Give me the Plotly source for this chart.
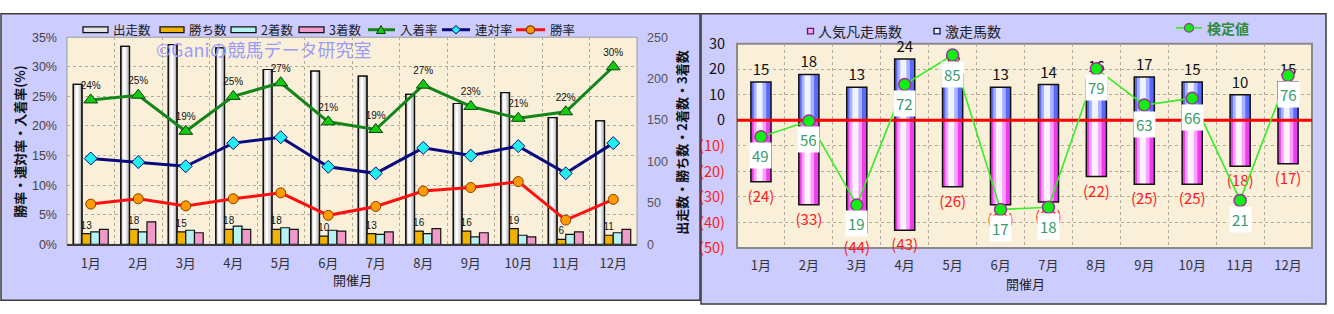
import plotly.graph_objects as go

# ---------------- data ----------------
months = ["1月", "2月", "3月", "4月", "5月", "6月", "7月", "8月", "9月", "10月", "11月", "12月"]
month_pos = list(range(1, 13))

# left chart (counts on right axis, rates on left axis)
runners = [193, 239, 241, 237, 211, 209, 203, 181, 170, 183, 153, 149]
wins = [13, 18, 15, 18, 18, 10, 13, 16, 16, 19, 6, 11]
seconds = [15, 15, 17, 22, 20, 17, 12, 13, 9, 11, 12, 14]
thirds = [18, 27, 14, 18, 18, 16, 15, 19, 14, 9, 15, 18]
place_rate = [24.4, 25.2, 19.1, 25.0, 27.3, 20.7, 19.4, 26.9, 23.3, 21.3, 22.4, 30.0]
quinella_rate = [14.5, 13.9, 13.2, 17.1, 18.1, 13.1, 12.0, 16.3, 15.0, 16.6, 12.0, 17.1]
win_rate = [6.8, 7.7, 6.5, 7.7, 8.7, 4.9, 6.4, 9.0, 9.6, 10.6, 4.1, 7.6]
pct_ticks = [0, 5, 10, 15, 20, 25, 30, 35]
count_ticks = [0, 50, 100, 150, 200, 250]

# right chart
surge = [15, 18, 13, 24, 18, 13, 14, 16, 17, 15, 10, 15]
flop = [-24, -33, -44, -43, -26, -33, -32, -22, -25, -25, -18, -17]
test_value = [49, 56, 19, 72, 85, 17, 18, 79, 63, 66, 21, 76]
diff_ticks = [30, 20, 10, 0, -10, -20, -30, -40, -50]

# ---------------- helpers ----------------
W, H = 1334, 314


def px(v):
    return v / W


def py(v):
    return 1 - v / H


JP = "Noto Sans CJK JP, Noto Sans, sans-serif"
NUM = "Liberation Sans, Arial, sans-serif"
GRID = "#b4ab98"

LX0, LX1, LY0, LY1 = 67, 637, 27, 249
RX0, RX1, RY0, RY1 = 737, 1312, 34, 253

fig = go.Figure()


def bar(y, off, w, color, xa, ya, line=None, lw=1.2, **kw):
    return go.Bar(
        x=month_pos, y=y, offset=off, width=w, xaxis=xa, yaxis=ya,
        marker=dict(color=color, line=dict(color=line if line else "rgba(0,0,0,0)", width=lw if line else 0)),
        showlegend=False, hoverinfo="skip", cliponaxis=False, **kw)


# ---- left chart bars (primary y = counts, right side) ----
BW = 0.184
o0 = -2 * BW
fig.add_trace(bar(runners, o0, BW, "#b4b4b4", "x", "y", line="#111"))
fig.add_trace(bar(runners, o0 + 0.025, 0.12, "#dedede", "x", "y"))
fig.add_trace(bar(runners, o0 + 0.05, 0.055, "#ffffff", "x", "y"))
fig.add_trace(bar(runners, o0, BW, "rgba(0,0,0,0)", "x", "y", line="#111"))
fig.add_trace(bar(wins, -BW, BW, "#f0b400", "x", "y", line="#111",
                  text=[str(v) for v in wins], textposition="outside", constraintext="none",
                  textfont=dict(family=NUM, size=10, color="#111")))
fig.add_trace(bar(seconds, 0, BW, "#b6f2f2", "x", "y", line="#111"))
fig.add_trace(bar(thirds, BW, BW, "#f09ac8", "x", "y", line="#111"))

# ---- left chart lines (y2 = rates, left side, overlaying) ----
fig.add_trace(go.Scatter(
    x=month_pos, y=place_rate, xaxis="x", yaxis="y2", mode="lines+markers+text",
    line=dict(color="#13861a", width=3),
    marker=dict(symbol="triangle-up", size=12, color="#11cc11", line=dict(color="#0b400b", width=1)),
    text=[f"{v:.0f}%" for v in place_rate], textposition="top center",
    textfont=dict(family=NUM, size=10, color="#111"), showlegend=False, hoverinfo="skip", cliponaxis=False))
fig.add_trace(go.Scatter(
    x=month_pos, y=quinella_rate, xaxis="x", yaxis="y2", mode="lines+markers",
    line=dict(color="#0a0a80", width=3),
    marker=dict(symbol="diamond", size=10, color="#22eeee", line=dict(color="#0a0a80", width=1)),
    showlegend=False, hoverinfo="skip", cliponaxis=False))
fig.add_trace(go.Scatter(
    x=month_pos, y=win_rate, xaxis="x", yaxis="y2", mode="lines+markers",
    line=dict(color="#ff1010", width=3),
    marker=dict(symbol="circle", size=10, color="#ff9a00", line=dict(color="#8a3a00", width=1)),
    showlegend=False, hoverinfo="skip", cliponaxis=False))

# ---- right chart bars (y3) ----
RW = 0.42
r0 = -RW / 2
fig.add_trace(bar(surge, r0, RW, "#5a68ff", "x3", "y3"))
fig.add_trace(bar(surge, r0 + RW * 0.14, RW * 0.62, "#a8b2ff", "x3", "y3"))
fig.add_trace(bar(surge, r0 + RW * 0.28, RW * 0.3, "#f0f2ff", "x3", "y3"))
fig.add_trace(bar(surge, r0, RW, "rgba(0,0,0,0)", "x3", "y3", line="#111", lw=1.5,
                  text=[str(v) for v in surge], textposition="outside", constraintext="none",
                  textfont=dict(family=JP, size=15, color="#111")))
fig.add_trace(bar(flop, r0, RW, "#ee3cee", "x3", "y3"))
fig.add_trace(bar(flop, r0 + RW * 0.14, RW * 0.62, "#f8a2f8", "x3", "y3"))
fig.add_trace(bar(flop, r0 + RW * 0.28, RW * 0.3, "#fff0ff", "x3", "y3"))
fig.add_trace(bar(flop, r0, RW, "rgba(0,0,0,0)", "x3", "y3", line="#111", lw=1.5,
                  text=[f"({-v})" for v in flop], textposition="outside", constraintext="none",
                  textfont=dict(family=JP, size=15, color="#ff1a1a")))
# zero reference line
fig.add_trace(go.Scatter(x=[0.5, 12.5], y=[0, 0], xaxis="x3", yaxis="y3", mode="lines",
                         line=dict(color="#ff0000", width=3), showlegend=False, hoverinfo="skip"))
# test value line (y4 overlaying y3)
fig.add_trace(go.Scatter(
    x=month_pos, y=test_value, xaxis="x3", yaxis="y4", mode="lines+markers",
    line=dict(color="#33ee22", width=1.6),
    marker=dict(symbol="circle", size=12, color="#11ee11", line=dict(color="#993399", width=1.5)),
    showlegend=False, hoverinfo="skip", cliponaxis=False))

# ---------------- shapes ----------------
shapes = [
    dict(type="rect", xref="paper", yref="paper", x0=px(1), x1=px(700), y0=py(309), y1=py(2),
         fillcolor="#ccccff", line=dict(color="#3c3c3c", width=1.5), layer="below"),
    dict(type="rect", xref="paper", yref="paper", x0=px(701), x1=px(1326), y0=py(313), y1=py(2),
         fillcolor="#ccccff", line=dict(color="#3c3c3c", width=1.5), layer="below"),
    dict(type="rect", xref="paper", yref="paper", x0=px(LX0), x1=px(LX1), y0=py(LY1), y1=py(LY0),
         fillcolor="#faf0da", line=dict(color="#9a9a9a", width=1), layer="below"),
    dict(type="rect", xref="paper", yref="paper", x0=px(RX0), x1=px(RX1), y0=py(RY1), y1=py(RY0),
         fillcolor="#faf0da", line=dict(color="#8a8a8a", width=2), layer="below"),
]

annotations = []


def legend_text(x, y, text, size=12.5, color="#222", bold=False):
    annotations.append(dict(xref="paper", yref="paper", x=px(x), y=py(y), xanchor="left", yanchor="middle",
                            text=f"<b>{text}</b>" if bold else text, showarrow=False,
                            font=dict(family=JP, size=size, color=color)))


def legend_box(x0, x1, yc, h, fill, line):
    shapes.append(dict(type="rect", xref="paper", yref="paper", x0=px(x0), x1=px(x1),
                       y0=py(yc + h / 2), y1=py(yc - h / 2), fillcolor=fill,
                       line=dict(color=line, width=1.3), layer="above"))


def legend_line(x0, x1, yc, color, width):
    shapes.append(dict(type="line", xref="paper", yref="paper", x0=px(x0), x1=px(x1), y0=py(yc), y1=py(yc),
                       line=dict(color=color, width=width), layer="above"))


def legend_path(pts, fill, line):
    d = "M " + " L ".join(f"{px(a):.5f},{py(b):.5f}" for a, b in pts) + " Z"
    shapes.append(dict(type="path", xref="paper", yref="paper", path=d, fillcolor=fill,
                       line=dict(color=line, width=1), layer="above"))


def legend_circle(cx, cy, r, fill, line):
    shapes.append(dict(type="circle", xref="paper", yref="paper", x0=px(cx - r), x1=px(cx + r),
                       y0=py(cy + r), y1=py(cy - r), fillcolor=fill, line=dict(color=line, width=1.2),
                       layer="above"))


# left legend
LY = 19
legend_box(83, 108, LY, 6, "#e2e2e2", "#111"); legend_text(111, LY, "出走数")
legend_box(160, 184, LY, 6, "#f0b400", "#111"); legend_text(187, LY, "勝ち数")
legend_box(231, 256, LY, 6, "#b6f2f2", "#111"); legend_text(259, LY, "2着数")
legend_box(299, 324, LY, 6, "#f09ac8", "#111"); legend_text(327, LY, "3着数")
legend_line(368, 395, LY, "#13861a", 3)
legend_path([(376.5, LY + 4), (385.5, LY + 4), (381, LY - 4.5)], "#11cc11", "#0b400b")
legend_text(398, LY, "入着率")
legend_line(442, 470, LY, "#0a0a80", 3)
legend_path([(456, LY - 4.5), (460.5, LY), (456, LY + 4.5), (451.5, LY)], "#22eeee", "#0a0a80")
legend_text(473, LY, "連対率")
legend_line(516, 545, LY, "#ff1010", 3)
legend_circle(530.5, LY, 4.2, "#ff9a00", "#8a3a00")
legend_text(548, LY, "勝率")

# right legends
legend_box(807.5, 813.5, 20.5, 6, "#ff9cff", "#552255"); legend_text(816, 20.5, "人気凡走馬数", size=14)
legend_box(934, 940, 20.5, 6, "#eef0ff", "#111144"); legend_text(943, 20.5, "激走馬数", size=14)
legend_line(1176, 1202, 17, "#33ee22", 1.6)
legend_circle(1189, 17, 4.6, "#11ee11", "#993399")
legend_text(1205, 17, "検定値", size=14, color="#2e8b3e", bold=True)

# titles / watermark
annotations += [
    dict(xref="paper", yref="paper", x=px(352), y=py(287), text="開催月", showarrow=False,
         font=dict(family=JP, size=13, color="#222"), xanchor="center", yanchor="middle"),
    dict(xref="paper", yref="paper", x=px(1025), y=py(291), text="開催月", showarrow=False,
         font=dict(family=JP, size=13, color="#222"), xanchor="center", yanchor="middle"),
    dict(xref="paper", yref="paper", x=px(20), y=py(139), text="<b>勝率・連対率・入着率(%)</b>", showarrow=False,
         textangle=-90, font=dict(family=JP, size=13, color="#111"), xanchor="center", yanchor="middle"),
    dict(xref="paper", yref="paper", x=px(682), y=py(140), text="<b>出走数・勝ち数・2着数・3着数</b>",
         showarrow=False, textangle=-90, font=dict(family=JP, size=13, color="#111"),
         xanchor="center", yanchor="middle"),
    dict(xref="paper", yref="paper", x=px(154), y=py(40), text="©Ganiの競馬データ研究室", showarrow=False,
         font=dict(family=JP, size=18, color="#9c9cf6"), xanchor="left", yanchor="middle"),
]

# test value labels
for xv, tv in zip(month_pos, test_value):
    annotations.append(dict(x=xv, y=tv, xref="x3", yref="y4", text=str(tv), showarrow=False, yshift=-19,
                            bgcolor="#ffffff", borderpad=2,
                            font=dict(family=JP, size=15, color="#3a9a6a")))

neg_red = "#ff1a1a"
diff_text = [str(v) if v >= 0 else f"<span style='color:{neg_red}'>({-v})</span>" for v in diff_ticks]
pct_text = [f"{v}%" for v in pct_ticks]

fig.update_layout(
    width=W, height=H, margin=dict(l=0, r=0, t=0, b=0),
    paper_bgcolor="#ffffff", plot_bgcolor="rgba(0,0,0,0)",
    barmode="overlay", showlegend=False,
    shapes=shapes, annotations=annotations,
    font=dict(family=JP),
    xaxis=dict(domain=[px(LX0), px(LX1)], anchor="y", range=[0.5, 12.5], tickvals=month_pos, ticktext=months,
               showgrid=False, zeroline=False, ticks="", ticklabelstandoff=6,
               minor=dict(tickvals=[i + 0.5 for i in range(13)], showgrid=True, gridcolor=GRID,
                          griddash="dot", gridwidth=1),
               showline=True, linecolor="#3a3a3a", linewidth=1.5,
               tickfont=dict(family=JP, size=13, color="#333")),
    yaxis=dict(domain=[py(LY1), py(LY0)], anchor="x", side="right", range=[0, 250], tickvals=count_ticks,
               showgrid=False, zeroline=False, ticks="", ticklabelstandoff=9,
               tickfont=dict(family=NUM, size=12.5, color="#555")),
    yaxis2=dict(overlaying="y", anchor="x", side="left", range=[0, 35], tickvals=pct_ticks, ticktext=pct_text,
                showgrid=True, gridcolor=GRID, griddash="dot", gridwidth=1, zeroline=False, ticks="",
                ticklabelstandoff=9, tickfont=dict(family=NUM, size=12.5, color="#444")),
    xaxis3=dict(domain=[px(RX0), px(RX1)], anchor="y3", range=[0.5, 12.5], tickvals=month_pos, ticktext=months,
                showgrid=False, zeroline=False, ticks="", ticklabelstandoff=8,
                minor=dict(tickvals=[i + 0.5 for i in range(13)], showgrid=True, gridcolor=GRID,
                           griddash="dot", gridwidth=1),
                tickfont=dict(family=JP, size=13, color="#333")),
    yaxis3=dict(domain=[py(RY1), py(RY0)], anchor="x3", range=[-50, 30], tickvals=diff_ticks, ticktext=diff_text,
                showgrid=True, gridcolor=GRID, griddash="dot", gridwidth=1, zeroline=False, ticks="",
                ticklabelstandoff=11, tickfont=dict(family=JP, size=14.5, color="#111")),
    yaxis4=dict(overlaying="y3", anchor="x3", range=[0, 90], visible=False),
)

fig.write_html("out.html")
